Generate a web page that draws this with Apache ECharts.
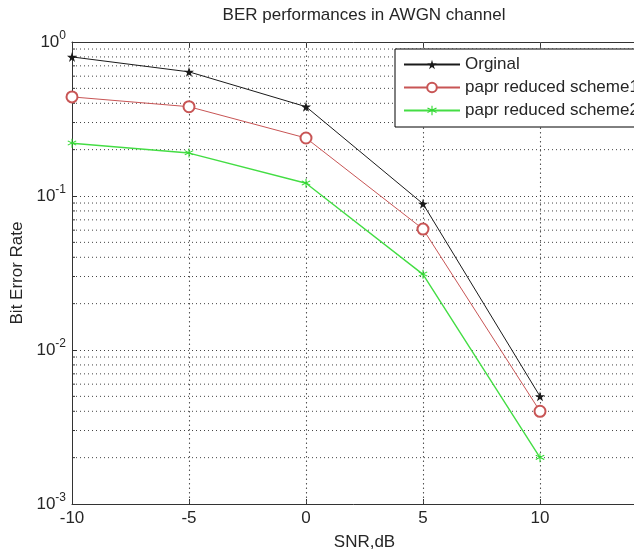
<!DOCTYPE html>
<html><head><meta charset="utf-8">
<script src="https://cdn.jsdelivr.net/npm/echarts@6/dist/echarts.min.js"></script>
<style>html,body{margin:0;padding:0;background:#fff}#c{width:634px;height:553px}</style>
</head><body><div id="c"></div>
<script>
// ---- data ----
const snr = [-10, -5, 0, 5, 10];
const berOriginal = [0.80, 0.64, 0.38, 0.089, 0.005];
const berScheme1 = [0.44, 0.38, 0.238, 0.061, 0.004];
const berScheme2 = [0.22, 0.19, 0.121, 0.031, 0.002];
const seriesNames = ['Orginal', 'papr reduced scheme1', 'papr reduced scheme2'];
const xTickValues = [-10, -5, 0, 5, 10];
const xGridValues = [-5, 0, 5, 10];
const yDecadeExponents = [0, -1, -2, -3];
const yMinorGrid = [0.002, 0.003, 0.004, 0.005, 0.006, 0.007, 0.008, 0.009,
                    0.02, 0.03, 0.04, 0.05, 0.06, 0.07, 0.08, 0.09,
                    0.2, 0.3, 0.4, 0.5, 0.6, 0.7, 0.8, 0.9];

const FONT = '"Liberation Sans", Arial, sans-serif';
const TXT = '#262626';
const GRIDC = '#444';
const STAR = 'path://M50,0 L61,35 L98,35 L68,57 L79,91 L50,70 L21,91 L32,57 L2,35 L39,35 Z';
const ASTER = 'path://M45,0 H55 V38 L88,19 L93,28 L60,47 L93,66 L88,75 L55,56 V100 H45 V56 L12,75 L7,66 L40,47 L7,28 L12,19 L45,38 Z';

const chart = echarts.init(document.getElementById('c'), null, {renderer: 'canvas'});

function pair(xs, ys) { return xs.map((x, i) => [x, ys[i]]); }

const option = {
  backgroundColor: '#fff',
  animation: false,
  textStyle: {fontFamily: FONT},
  grid: {left: 72, top: 42, bottom: 49, right: -23, containLabel: false, outerBoundsMode: 'none'},
  graphic: [{
    type: 'text', x: 364, y: 7,
    style: {text: 'BER performances in AWGN channel', font: '17px ' + FONT, fill: TXT, textAlign: 'center'}
  }],
  legend: {
    data: seriesNames,
    orient: 'vertical', left: 395, top: 49,
    borderColor: '#000', borderWidth: 1, backgroundColor: '#fff',
    padding: [7, 90, 8, 8], itemWidth: 56, itemHeight: 12, itemGap: 6,
    textStyle: {fontFamily: FONT, fontSize: 17, color: TXT}
  },
  xAxis: [{
    type: 'value', min: -10, max: 15, interval: 5,
    name: 'SNR,dB', nameLocation: 'middle', nameGap: 30,
    nameTextStyle: {fontFamily: FONT, fontSize: 17, color: TXT},
    axisLine: {show: true, onZero: false, lineStyle: {color: '#333', width: 1}},
    axisTick: {show: true, inside: true, length: 5, lineStyle: {color: '#333'}},
    axisLabel: {fontFamily: FONT, fontSize: 17, color: TXT, margin: 6,
      formatter: v => xTickValues.includes(v) ? String(v) : ''},
    splitLine: {show: false}
  }, {
    type: 'value', min: -10, max: 15, interval: 5, position: 'top',
    axisLine: {show: true, onZero: false, lineStyle: {color: '#333', width: 1}},
    axisTick: {show: true, inside: true, length: 5, lineStyle: {color: '#333'}},
    axisLabel: {show: false}, splitLine: {show: false}
  }],
  yAxis: {
    type: 'log', logBase: 10, min: 0.001, max: 1,
    name: 'Bit Error Rate', nameLocation: 'middle', nameGap: 46,
    nameTextStyle: {fontFamily: FONT, fontSize: 17, color: TXT},
    axisLine: {show: true, onZero: false, lineStyle: {color: '#333', width: 1}},
    axisTick: {show: true, inside: true, length: 5, lineStyle: {color: '#333'}},
    axisLabel: {
      margin: 6,
      formatter: v => {
        const e = Math.round(Math.log10(v));
        return yDecadeExponents.includes(e) ? '{b|10}{s|' + e + '}' : '';
      },
      rich: {
        b: {fontFamily: FONT, fontSize: 17, color: TXT},
        s: {fontFamily: FONT, fontSize: 12, color: TXT, padding: [0, 0, 12, 0]}
      }
    },
    splitLine: {show: true, lineStyle: {color: GRIDC, type: [1, 3], width: 1}}
  },
  series: [
    {
      type: 'custom', silent: true, xAxisIndex: 0,
      data: yMinorGrid.map(v => [-10, v]),
      renderItem: (params, api) => {
        const v = api.value(1);
        const a = api.coord([-10, v]);
        const b = api.coord([15, v]);
        return {type: 'group', children: [
          {type: 'line', shape: {x1: a[0], y1: a[1], x2: b[0], y2: b[1]},
           style: {stroke: GRIDC, lineWidth: 1, lineDash: [1, 3]}},
          {type: 'line', shape: {x1: a[0], y1: a[1], x2: a[0] + 3, y2: a[1]},
           style: {stroke: '#333', lineWidth: 1}}
        ]};
      },
      z: 1
    },
    {
      type: 'custom', silent: true, xAxisIndex: 0,
      data: xGridValues.map(v => [v, 0.01]),
      renderItem: (params, api) => {
        const v = api.value(0);
        const a = api.coord([v, 1]);
        const b = api.coord([v, 0.001]);
        const x = Math.round(a[0]) + 0.5;
        return {type: 'line', shape: {x1: x, y1: a[1], x2: x, y2: b[1]},
                style: {stroke: '#555', lineWidth: 1.1, lineDash: [1.5, 3]}};
      },
      z: 1
    },
    {
      name: seriesNames[0], type: 'line', data: pair(snr, berOriginal),
      symbol: STAR, symbolSize: 10,
      lineStyle: {color: '#1a1a1a', width: 1},
      itemStyle: {color: '#1a1a1a'}, z: 5
    },
    {
      name: seriesNames[1], type: 'line', data: pair(snr, berScheme1),
      symbol: 'emptyCircle', symbolSize: 11,
      lineStyle: {color: '#c85555', width: 1},
      itemStyle: {color: '#c85555', borderWidth: 1}, z: 4
    },
    {
      name: seriesNames[2], type: 'line', data: pair(snr, berScheme2),
      symbol: ASTER, symbolSize: 9,
      lineStyle: {color: '#44dd44', width: 1.4},
      itemStyle: {color: '#30d830'}, z: 3
    }
  ]
};
chart.setOption(option);
</script>
</body></html>
